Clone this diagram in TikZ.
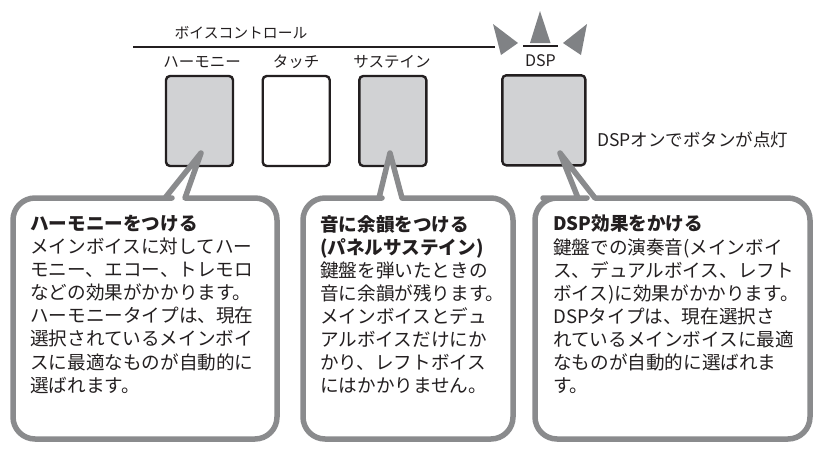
\documentclass[tikz,border=0pt]{standalone}
\usepackage{fontspec}
\setmainfont{Noto Sans CJK JP}
\definecolor{btngray}{HTML}{D1D2D4}
\definecolor{balloongray}{HTML}{8A8B8D}
\definecolor{glowgray}{HTML}{808285}
\definecolor{inkblack}{HTML}{231F20}
\tikzset{
  button/.style={draw=inkblack,line width=2.4pt,rounded corners=4pt,minimum width=67pt,minimum height=90pt,inner sep=0pt},
  balloon/.style={draw=balloongray,line width=5.5pt,fill=white,line join=round},
  caption/.style={font=\fontsize{15.5}{18}\selectfont,text=inkblack,inner sep=0pt},
  memo/.style={anchor=north west,align=left,inner sep=0pt,text=inkblack,font=\fontsize{18.6}{23.1}\selectfont},
}
\begin{document}
\begin{tikzpicture}[x=1pt,y=-1pt]
        \useasboundingbox (0,0) rectangle (817,448);
        \def\btop{198} \def\bbot{439}

        \draw[inkblack,line width=2pt] (133,47) -- (495,47);
        \draw[inkblack,line width=1.5pt] (523,46) -- (558,46);
        \fill[glowgray] (493,24) -- (518,43) -- (501,55) -- cycle;
        \fill[glowgray] (540,11) -- (550.5,43) -- (530,43) -- cycle;
        \fill[glowgray] (587,24) -- (563,43) -- (581,55) -- cycle;

        \node (voicectl) at (241,33) [caption,font=\fontsize{14.8}{18}\selectfont] {ボイスコントロール};

        \node (harmonybtn) at (199.5,121) [button,fill=btngray] {};
        \node (touchbtn) at (296.2,121) [button,fill=white] {};
        \node (sustainbtn) at (392.8,121) [button,fill=btngray] {};
        \node (dspbtn) at (543.8,120.3) [button,fill=btngray,minimum width=83pt] {};

        \node (harmonylbl) at (202,62) [caption] {ハーモニー};
        \node (touchlbl) at (296.2,62) [caption] {タッチ};
        \node (sustainlbl) at (392,62) [caption] {サステイン};
        \node (dsplbl) at (540.5,61) [caption,font=\fontsize{16}{18}\selectfont] {DSP};
        \node (dspnote) at (597,140) [caption,anchor=west,font=\fontsize{17.5}{18}\selectfont] {DSPオンでボタンが点灯};

        \draw[balloon] (13,300) [rounded corners=22pt] -- (13,\btop) -- (150,\btop) [sharp corners] -- (165,\btop)
          -- (201,153) -- (185,\btop) -- (200,\btop) [rounded corners=22pt] -- (277,\btop) -- (277,\bbot) -- (13,\bbot) -- cycle;
        \draw[balloon] (303,300) [rounded corners=22pt] -- (303,\btop) -- (360,\btop) [sharp corners] -- (379,\btop)
          -- (390,153) -- (402,\btop) -- (420,\btop) [rounded corners=22pt] -- (513,\btop) -- (513,\bbot) -- (303,\bbot) -- cycle;
        \draw[balloon] (535,300) [rounded corners=22pt] -- (535,\btop) -- (565,\btop) [sharp corners] -- (578,\btop)
          -- (560,153) -- (595,\btop) -- (615,\btop) [rounded corners=22pt] -- (810,\btop) -- (810,\bbot) -- (535,\bbot) -- cycle;

        \node (harmonymemo) at (30,215) [memo] {\textbf{ハーモニーをつける}\\
          メインボイスに対してハー\\モニー、エコー、トレモロ\\などの効果がかかります。\\
          ハーモニータイプは、現在\\選択されているメインボイ\\スに最適なものが自動的に\\選ばれます。};
        \node (sustainmemo) at (320,215) [memo] {\textbf{音に余韻をつける}\\\textbf{(パネルサステイン)}\\
          鍵盤を弾いたときの\\音に余韻が残ります。\\メインボイスとデュ\\アルボイスだけにか\\
          かり、レフトボイス\\にはかかりません。};
        \node (dspmemo) at (553,215) [memo] {\textbf{DSP効果をかける}\\
          鍵盤での演奏音(メインボイ\\ス、デュアルボイス、レフト\\ボイス)に効果がかかります。\\
          DSPタイプは、現在選択さ\\れているメインボイスに最適\\なものが自動的に選ばれま\\す。};
      \end{tikzpicture}
\end{document}
